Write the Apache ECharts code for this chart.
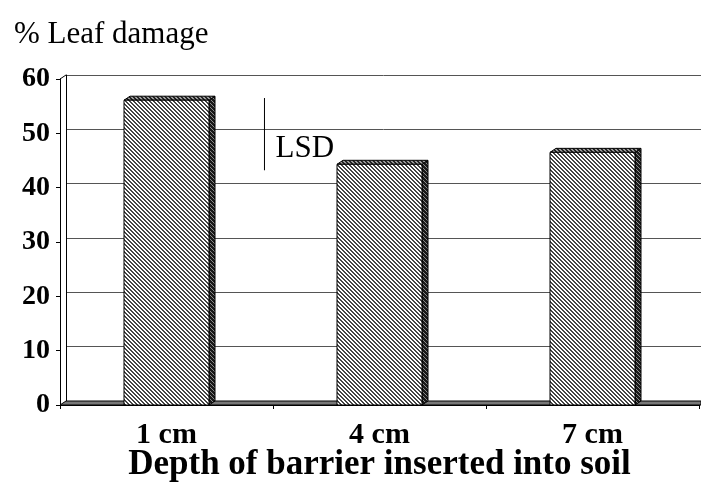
<!DOCTYPE html>
<html lang="en" style="height: 100%">
<head>
  <meta charset="utf-8">
  <script type="text/javascript" src="https://cdn.jsdelivr.net/npm/echarts@6/dist/echarts.min.js"></script>
</head>
<body style="height: 100%; margin: 0; background: #fff">
  <div id="container" style="width: 701px; height: 503px"></div>
  <script type="text/javascript">
    // data
    var categories = ['1 cm', '4 cm', '7 cm'];
    var damage = [56.1, 44.3, 46.5];
    var yTicks = [0, 10, 20, 30, 40, 50, 60];
    // LSD marker: x in category units, top/bottom in % damage
    var lsdX = 0.46;
    var lsdHigh = 56.5;
    var lsdLow = 43.2;
    var lsdLabelAt = 47.2;

    var FONT = '"Liberation Serif", "Times New Roman", serif';

    function makePattern(dark, light, darkCells) {
      var c = document.createElement('canvas');
      c.width = 4; c.height = 4;
      var ctx = c.getContext('2d');
      for (var x = 0; x < 4; x++) {
        for (var y = 0; y < 4; y++) {
          var k = ((x - y) % 4 + 4) % 4;
          ctx.fillStyle = darkCells.indexOf(k) >= 0 ? dark : light;
          ctx.fillRect(x, y, 1, 1);
        }
      }
      return { image: c, repeat: 'repeat' };
    }
    var frontFill = makePattern('#444444', '#ffffff', [0, 1]);
    var topFill = makePattern('#222222', '#9a9a9a', [0, 1]);
    var sideFill = makePattern('#1a1a1a', '#8a8a8a', [0, 1, 2]);

    var dom = document.getElementById('container');
    var myChart = echarts.init(dom, null, { renderer: 'canvas' });

    function renderBar(params, api) {
      var top = api.coord([api.value(0), api.value(1)]);
      var base = api.coord([api.value(0), 0]);
      var w = 85, dx = 6, dy = 4;
      var l = top[0] - w / 2, r = top[0] + w / 2;
      return {
        type: 'group',
        children: [
          {
            type: 'polygon',
            shape: { points: [[r, top[1]], [r + dx, top[1] - dy], [r + dx, base[1] - dy], [r, base[1]]] },
            style: { fill: sideFill, stroke: '#000', lineWidth: 1 }
          },
          {
            type: 'polygon',
            shape: { points: [[l, top[1]], [l + dx, top[1] - dy], [r + dx, top[1] - dy], [r, top[1]]] },
            style: { fill: topFill, stroke: '#000', lineWidth: 1 }
          },
          {
            type: 'rect',
            shape: { x: l, y: top[1], width: w, height: base[1] - top[1] },
            style: { fill: frontFill, stroke: '#000', lineWidth: 1 }
          }
        ]
      };
    }

    function renderLsd(params, api) {
      var a = api.coord([lsdX, lsdHigh]);
      var b = api.coord([lsdX, lsdLow]);
      var t = api.coord([lsdX, lsdLabelAt]);
      return {
        type: 'group',
        children: [
          {
            type: 'line',
            shape: { x1: a[0], y1: a[1], x2: b[0], y2: b[1] },
            style: { stroke: '#000', lineWidth: 1 }
          },
          {
            type: 'text',
            x: t[0] + 11,
            y: t[1],
            style: { text: 'LSD', font: '31px ' + FONT, fill: '#000', verticalAlign: 'middle', align: 'left' }
          }
        ]
      };
    }

    var option = {
      animation: false,
      title: {
        text: '% Leaf damage',
        left: 9,
        top: 14,
        textStyle: { fontFamily: FONT, fontWeight: 'normal', fontSize: 31, color: '#000' }
      },
      grid: [
        { left: 60, right: 2, top: 79, bottom: 98 },
        { left: 66, right: 0, top: 75, bottom: 102 }
      ],
      xAxis: [
        {
          type: 'category',
          gridIndex: 0,
          data: categories,
          axisLine: { onZero: false, lineStyle: { color: '#000', width: 1 } },
          axisTick: { show: true, length: 4, lineStyle: { color: '#000' } },
          axisLabel: { margin: 15, color: '#000', fontFamily: FONT, fontWeight: 'bold', fontSize: 30 },
          name: 'Depth of barrier inserted into soil',
          nameLocation: 'middle',
          nameGap: 42,
          nameMoveOverlap: false,
          nameTextStyle: { fontFamily: FONT, fontWeight: 'bold', fontSize: 35, color: '#000' }
        },
        {
          type: 'value',
          gridIndex: 0,
          min: -0.5,
          max: 2.5,
          show: false
        },
        {
          type: 'category',
          gridIndex: 1,
          data: categories,
          show: false
        }
      ],
      yAxis: [
        {
          type: 'value',
          gridIndex: 0,
          min: 0,
          max: 60,
          interval: 10,
          axisLine: { show: true, onZero: false, lineStyle: { color: '#000' } },
          axisTick: { show: true, length: 4, lineStyle: { color: '#000' } },
          axisLabel: {
            margin: 10,
            color: '#000',
            fontFamily: FONT,
            fontWeight: 'bold',
            fontSize: 28,
            formatter: function (v) { return yTicks.indexOf(v) >= 0 ? String(v) : ''; }
          },
          splitLine: { show: false }
        },
        {
          type: 'value',
          gridIndex: 1,
          min: 0,
          max: 60,
          interval: 10,
          axisLine: { show: true, onZero: false, lineStyle: { color: '#000' } },
          axisTick: { show: false },
          axisLabel: { show: false },
          splitLine: { show: true, lineStyle: { color: '#555', width: 1 } }
        }
      ],
      graphic: [
        // floor slab and corner joint of the 3D frame
        {
          type: 'polygon',
          z: 1,
          shape: { points: [[60, 405], [66, 401], [701, 401], [701, 405]] },
          style: { fill: '#777', stroke: '#000', lineWidth: 1 }
        },
        {
          type: 'line',
          shape: { x1: 60, y1: 79, x2: 66, y2: 75 },
          style: { stroke: '#000', lineWidth: 1 }
        }
      ],
      series: [
        {
          type: 'custom',
          xAxisIndex: 0,
          yAxisIndex: 0,
          z: 5,
          renderItem: renderBar,
          data: categories.map(function (c, i) { return [i, damage[i]]; })
        },
        {
          type: 'custom',
          xAxisIndex: 1,
          yAxisIndex: 0,
          z: 6,
          renderItem: renderLsd,
          data: [[lsdX, lsdHigh]]
        }
      ]
    };

    myChart.setOption(option);
  </script>
</body>
</html>
